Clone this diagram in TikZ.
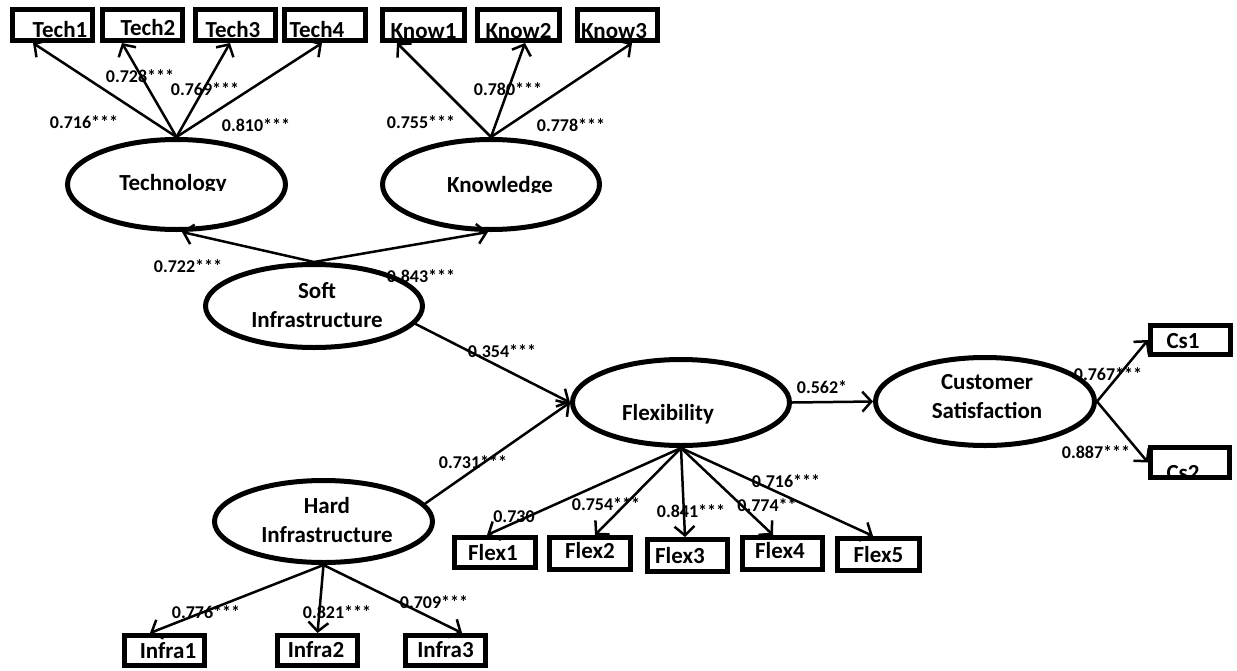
\documentclass[tikz,border=0pt]{standalone}
\usepackage{fontspec}
\setmainfont{Carlito}
\usetikzlibrary{arrows.meta,shapes.geometric}
\tikzset{
  x=1pt, y=-1pt,
  latent/.style={draw, ellipse, line width=5pt, inner sep=0pt},
  manifest/.style={draw, rectangle, line width=5pt, inner sep=0pt,
    minimum width=80pt, minimum height=31pt, text depth=0pt,
    font=\fontsize{23}{28}\selectfont\bfseries},
  lattext/.style={anchor=base, align=center, inner sep=0pt,
    font=\fontsize{23}{29}\selectfont\bfseries},
  coef/.style={inner sep=0pt, text height=11.6pt, text depth=0pt,
    font=\fontsize{18}{20}\selectfont\bfseries},
  link/.style={line width=2.5pt, ->},
  >={Straight Barb[length=9pt,width=20pt]}
}
\begin{document}
\begin{tikzpicture}
\useasboundingbox (0,0) rectangle (1237,670);

% latent constructs
\node[latent, minimum width=218pt, minimum height=90pt] (tech) at (176.5,184.5) {};
\node[latent, minimum width=217pt, minimum height=90pt] (know) at (491,184.5) {};
\node[latent, minimum width=217pt, minimum height=83pt] (soft) at (314,306) {};
\node[latent, minimum width=218pt, minimum height=82pt] (hard) at (323.5,521.5) {};
\node[latent, minimum width=217pt, minimum height=86pt] (flex) at (681,402.5) {};
\node[latent, minimum width=219pt, minimum height=88pt] (cs) at (985,401.5) {};

% construct names (the top two are cut at their baseline);
% multi-line names are placed by the baseline of their last line
\begin{scope}
  \clip (0,0) rectangle (1237,190.5);
  \node[lattext] (techtxt) at (173,190) {Technology};
\end{scope}
\begin{scope}
  \clip (0,0) rectangle (1237,192.5);
  \node[lattext] (knowtxt) at (500,192) {Knowledge};
\end{scope}
\node[lattext] (softtxt) at (317,327) {Soft\\Infrastructure};
\node[lattext] (hardtxt) at (327,542) {Hard\\Infrastructure};
\node[lattext] (flextxt) at (668,420) {Flexibility};
\node[lattext] (cstxt) at (987,418) {Customer\\Satisfaction};

% indicators
\node[manifest, text height=24pt] (t1) at (52.5,25) {\hspace*{15pt}Tech1};
\node[manifest, text height=20pt] (t2) at (142.5,25) {\hspace*{11pt}Tech2};
\node[manifest, text height=24pt] (t3) at (235.5,25) {Tech3\hspace*{5pt}};
\node[manifest, text height=24pt, minimum width=81pt] (t4) at (325,25) {Tech4\hspace*{16pt}};
\node[manifest, text height=26pt, minimum width=82pt] (k1) at (423.5,25) {Know1};
\node[manifest, text height=26pt, minimum width=82pt] (k2) at (518.5,25) {Know2};
\node[manifest, text height=26pt] (k3) at (617.5,25) {Know3\hspace*{7pt}};

\node[manifest, text height=15pt, minimum width=81pt, minimum height=30pt] (f1) at (495,552.5) {Flex1\hspace*{4pt}};
\node[manifest, text height=9pt, minimum width=81pt, minimum height=32pt] (f2) at (590,553.5) {Flex2};
\node[manifest, text height=15pt, minimum height=32pt] (f3) at (687.5,555.5) {Flex3\hspace*{15pt}};
\node[manifest, text height=9pt, minimum height=32pt] (f4) at (782.5,553.5) {Flex4\hspace*{5pt}};
\node[manifest, text height=15pt, minimum width=82pt, minimum height=32pt] (f5) at (878.5,554.5) {Flex5};

\node[manifest, text height=15pt, minimum height=30pt] (i1) at (164.5,650.5) {\hspace*{7pt}Infra1};
\node[manifest, text height=13pt, minimum height=30pt] (i2) at (317.5,650.5) {Infra2\hspace*{3pt}};
\node[manifest, text height=13pt, minimum height=30pt] (i3) at (445.5,650.5) {Infra3};

\node[manifest, text height=16pt, minimum height=29pt] (c1) at (1190.5,340) {Cs1\hspace*{15pt}};
\begin{scope}
  \clip (0,0) rectangle (1237,476);
  \node[lattext] (c2txt) at (1183,480) {Cs2};
\end{scope}
\node[manifest, minimum width=79pt, minimum height=30pt] (c2) at (1190,462.5) {};

% loadings of the soft infrastructure dimensions
\draw[link] (tech.north) -- ([xshift=-19.5pt]t1.south);
\draw[link] (tech.north) -- ([xshift=-20.5pt]t2.south);
\draw[link] (tech.north) -- ([xshift=-5.5pt]t3.south);
\draw[link] (tech.north) -- ([xshift=-3pt]t4.south);
\draw[link] (know.north) -- ([xshift=-26.5pt]k1.south);
\draw[link] (know.north) -- ([xshift=6.5pt]k2.south);
\draw[link] (know.north) -- ([xshift=14.5pt]k3.south);

% second-order and structural paths
\draw[link] (soft.north) -- ([xshift=5.5pt]tech.south);
\draw[link] (soft.north) -- ([xshift=-3pt]know.south);
\draw[link] (soft.-10) -- (flex.west);
\draw[link] (hard.10) -- (flex.west);
\draw[link] (flex.east) -- (cs.west);

% flexibility indicators
\draw[link] (flex.south) -- ([xshift=-8pt]f1.north);
\draw[link] (flex.south) -- ([xshift=5pt]f2.north);
\draw[link] (flex.south) -- ([xshift=-2.5pt]f3.north);
\draw[link] (flex.south) -- ([xshift=-9.5pt]f4.north);
\draw[link] (flex.south) -- ([xshift=-5.5pt]f5.north);

% customer satisfaction indicators
\draw[link] (cs.east) -- (c1.west);
\draw[link] (cs.east) -- (c2.west);

% hard infrastructure indicators
\draw[link] (hard.south) -- ([xshift=-14.5pt]i1.north);
\draw[link] (hard.south) -- (i2.north);
\draw[link] (hard.south) -- ([xshift=16.5pt]i3.north);

% standardized coefficients
\node[coef] (l1) at (84,123) {0.716***};
\node[coef] (l2) at (140,77) {0.728***};
\node[coef] (l3) at (205,90) {0.769***};
\node[coef] (l4) at (256,126) {0.810***};
\node[coef] (l5) at (421,123) {0.755***};
\node[coef] (l6) at (508,90) {0.780***};
\node[coef] (l7) at (571,126) {0.778***};
\node[coef] (l8) at (188,267) {0.722***};
\node[coef] (l9) at (421,277) {0.843***};
\node[coef] (l10) at (502,352) {0.354***};
\node[coef] (l11) at (473,463) {0.731***};
\node[coef] (l12) at (822,388) {0.562*};
\node[coef] (l13) at (514,517) {0.730};
\node[coef] (l14) at (606,505) {0.754***};
\node[coef] (l15) at (691,512) {0.841***};
\node[coef] (l16) at (767,506) {0.774**};
\node[coef] (l17) at (786,482) {0.716***};
\node[coef] (l18) at (1108,375) {0.767***};
\node[coef] (l19) at (1096,453) {0.887***};
\node[coef] (l20) at (206,613) {0.776***};
\node[coef] (l21) at (337,613) {0.821***};
\node[coef] (l22) at (434,603) {0.709***};
\end{tikzpicture}
\end{document}
